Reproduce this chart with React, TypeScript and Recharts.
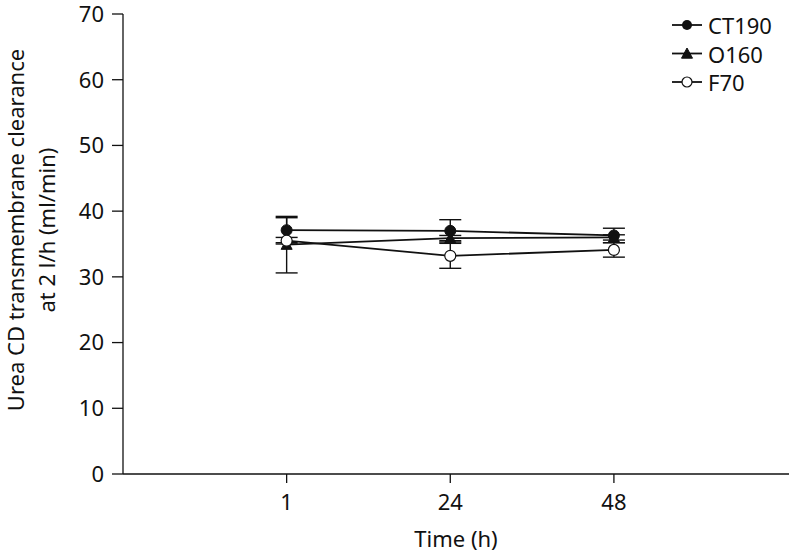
import React from 'react';
import { LineChart, Line, XAxis, YAxis, ErrorBar } from 'recharts';

const timeLabels = ['1', '24', '48'];
const xPositions = [1, 2, 3];

const ct190 = [37.1, 37.0, 36.3];
const ct190Err = [1.9, 1.7, 1.1];
const o160 = [34.9, 35.9, 36.0];
const o160Err = [4.3, 0.4, 0.4];
const f70 = [35.5, 33.2, 34.1];
const f70Err = [0.5, 1.9, 1.1];

const yTicks = [0, 10, 20, 30, 40, 50, 60, 70];

const FONT = '"Noto Sans", sans-serif';
const INK = '#111';
const FS = 22;

const data = xPositions.map((x, i) => ({
  x,
  ct190: ct190[i],
  ct190Err: ct190Err[i],
  o160: o160[i],
  o160Err: o160Err[i],
  f70: f70[i],
  f70Err: f70Err[i],
}));

const Triangle = (props: any) => {
  const { cx, cy } = props;
  if (cx == null || cy == null) return null;
  const s = 5.5;
  return (
    <polygon
      points={`${cx},${cy - s} ${cx + s},${cy + s * 0.85} ${cx - s},${cy + s * 0.85}`}
      fill={INK}
      stroke={INK}
    />
  );
};

const legendItems = [
  { name: 'CT190', kind: 'filled' },
  { name: 'O160', kind: 'triangle' },
  { name: 'F70', kind: 'open' },
];

const LegendBox = () => (
  <svg width={129} height={100} style={{ position: 'absolute', left: 660, top: 0 }}>
    {legendItems.map((item, i) => {
      const cy = 25 + i * 28.5;
      return (
        <g key={item.name}>
          <line x1={12} x2={42} y1={cy} y2={cy} stroke={INK} strokeWidth={1.8} />
          {item.kind === 'filled' && <circle cx={27} cy={cy} r={5} fill={INK} />}
          {item.kind === 'open' && <circle cx={27} cy={cy} r={5} fill="#fff" stroke={INK} strokeWidth={1.2} />}
          {item.kind === 'triangle' && <Triangle cx={27} cy={cy} />}
          <text x={48} y={cy} dominantBaseline="central" fontSize={FS} fontFamily={FONT} fill={INK}>
            {item.name}
          </text>
        </g>
      );
    })}
  </svg>
);

const YLabel = () => (
  <g transform="translate(0, 230) rotate(-90)">
    <text x={0} y={15} textAnchor="middle" dominantBaseline="central" fontSize={FS} fontFamily={FONT} fill={INK}>
      Urea CD transmembrane clearance
    </text>
    <text x={0} y={46} textAnchor="middle" dominantBaseline="central" fontSize={FS} fontFamily={FONT} fill={INK}>
      at 2 l/h (ml/min)
    </text>
  </g>
);

export default function App() {
  return (
    <div style={{ position: 'absolute', left: 0, top: 0, width: 789, height: 554, fontFamily: FONT, overflow: 'hidden' }}>
      <LineChart width={789} height={554} data={data} margin={{ top: 14, right: 0, bottom: 0, left: 0 }}>
        <XAxis
          type="number"
          dataKey="x"
          domain={[0, 4.07]}
          ticks={xPositions}
          tickFormatter={(v: number) => timeLabels[v - 1] ?? ''}
          height={80}
          tickSize={9}
          tickMargin={11}
          stroke={INK}
          strokeWidth={1.3}
          tick={{ fill: INK, fontSize: FS, fontFamily: FONT }}
          label={{ value: 'Time (h)', position: 'insideBottom', offset: 7, fill: INK, fontSize: FS, fontFamily: FONT }}
        />
        <YAxis
          type="number"
          domain={[0, 70]}
          ticks={yTicks}
          width={123}
          tickSize={11}
          tickMargin={8}
          stroke={INK}
          strokeWidth={1.3}
          tick={{ fill: INK, fontSize: FS, fontFamily: FONT }}
          label={<YLabel />}
        />
        <Line
          dataKey="ct190"
          stroke={INK}
          strokeWidth={1.8}
          isAnimationActive={false}
          dot={{ r: 5.5, fill: INK, stroke: INK, strokeWidth: 1 }}
        >
          <ErrorBar dataKey="ct190Err" direction="y" width={11} stroke={INK} strokeWidth={1.4} />
        </Line>
        <Line dataKey="o160" stroke={INK} strokeWidth={1.8} isAnimationActive={false} dot={<Triangle />}>
          <ErrorBar dataKey="o160Err" direction="y" width={11} stroke={INK} strokeWidth={1.4} />
        </Line>
        <Line
          dataKey="f70"
          stroke={INK}
          strokeWidth={1.8}
          isAnimationActive={false}
          dot={{ r: 5.5, fill: '#fff', stroke: INK, strokeWidth: 1.2 }}
        >
          <ErrorBar dataKey="f70Err" direction="y" width={11} stroke={INK} strokeWidth={1.4} />
        </Line>
      </LineChart>
      <LegendBox />
    </div>
  );
}
